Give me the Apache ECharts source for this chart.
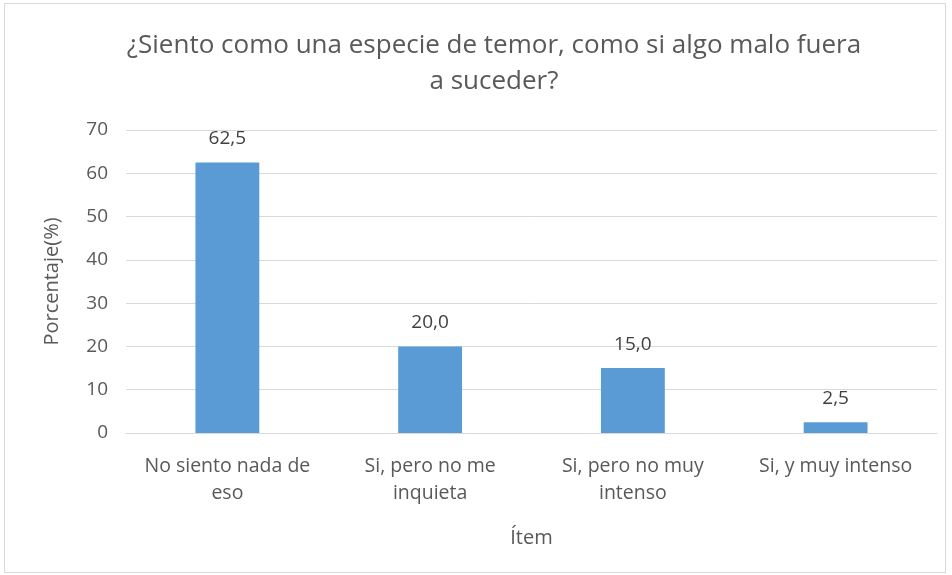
<!DOCTYPE html>
<html>
<head>
<meta charset="utf-8">
<script src="https://cdn.jsdelivr.net/npm/echarts@6/dist/echarts.min.js"></script>
<style>
  html, body { margin: 0; padding: 0; background: #fff; }
  #chart { position: absolute; left: 4px; top: 3px; width: 942px; height: 570px; border: 1px solid #d9d9d9; box-sizing: border-box; }
</style>
</head>
<body>
<div id="chart"></div>
<script>
// datos
var categorias = ['No siento nada de\neso', 'Si, pero no me\ninquieta', 'Si, pero no muy\nintenso', 'Si, y muy intenso'];
var porcentajes = [62.5, 20.0, 15.0, 2.5];
var titulo = '¿Siento como una especie de temor, como si algo malo fuera\na suceder?';

var chart = echarts.init(document.getElementById('chart'));
var fuente = 'Open Sans';

var option = {
  animation: false,
  title: {
    text: titulo,
    left: 484,
    textAlign: 'center',
    top: 19,
    textStyle: { fontFamily: fuente, fontSize: 26, fontWeight: 'normal', color: '#595959', lineHeight: 36 }
  },
  grid: { left: 121, right: 8, top: 126, bottom: 139, containLabel: false },
  xAxis: {
    type: 'category',
    data: categorias,
    name: 'Ítem',
    nameLocation: 'middle',
    nameGap: 95,
    nameTextStyle: { fontFamily: fuente, fontSize: 20, color: '#595959' },
    axisLine: { lineStyle: { color: '#d9d9d9', width: 1 } },
    axisTick: { show: false },
    axisLabel: { fontFamily: fuente, fontSize: 19.5, color: '#595959', lineHeight: 27, margin: 20, interval: 0 }
  },
  yAxis: {
    type: 'value',
    min: 0,
    max: 70,
    interval: 10,
    name: 'Porcentaje(%)',
    nameLocation: 'middle',
    nameGap: 64,
    nameTextStyle: { fontFamily: fuente, fontSize: 20, color: '#595959' },
    axisLine: { show: false },
    axisTick: { show: false },
    axisLabel: { fontFamily: fuente, fontSize: 19, color: '#595959', margin: 18 },
    splitLine: { lineStyle: { color: '#d9d9d9', width: 1 } }
  },
  series: [{
    type: 'bar',
    data: porcentajes,
    barWidth: '31.5%',
    itemStyle: { color: '#5b9bd5' },
    label: {
      show: true,
      position: 'top',
      distance: 14,
      fontFamily: fuente,
      fontSize: 19,
      color: '#404040',
      formatter: function (p) { return p.value.toFixed(1).replace('.', ','); }
    }
  }]
};
chart.setOption(option);
</script>
</body>
</html>
